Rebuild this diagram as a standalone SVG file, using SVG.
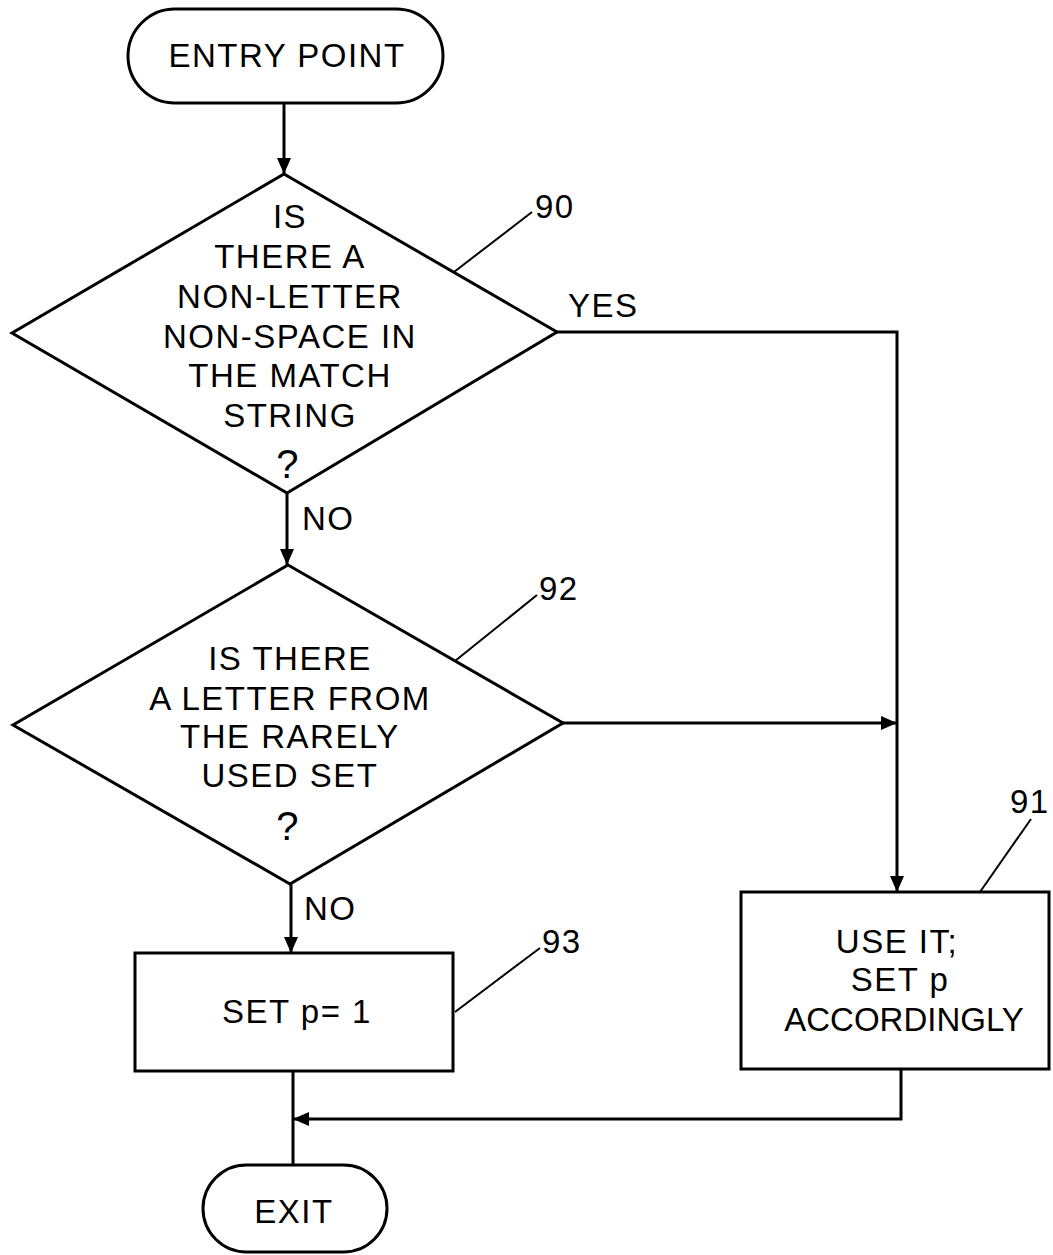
<svg xmlns="http://www.w3.org/2000/svg" width="1053" height="1255" viewBox="0 0 1053 1255">
<style>
.s{fill:none;stroke:#000;stroke-width:3;stroke-linejoin:miter}
.c{fill:none;stroke:#000;stroke-width:3}
.l{fill:none;stroke:#000;stroke-width:2}
text{font-family:"Liberation Sans",Arial,sans-serif;font-size:33px;fill:#000;letter-spacing:1.5px}
.m{text-anchor:middle}
.q{font-size:40px}
</style>
<defs>
<marker id="ah" markerUnits="userSpaceOnUse" markerWidth="17" markerHeight="15" refX="16" refY="7" orient="auto">
<path d="M0,0 L16,7 L0,14 z" fill="#000"/>
</marker>
</defs>
<rect width="1053" height="1255" fill="#fff"/>
<g id="connectors">
<path class="c" d="M284,103 V174" marker-end="url(#ah)"/>
<path class="c" d="M287,493 V565" marker-end="url(#ah)"/>
<path class="c" d="M557,332 H897 V892" marker-end="url(#ah)"/>
<path class="c" d="M563,723 H897" marker-end="url(#ah)"/>
<path class="c" d="M291,884 V953" marker-end="url(#ah)"/>
<path class="c" d="M293,1071 V1165"/>
<path class="c" d="M901,1069 V1119 H293" marker-end="url(#ah)"/>
<text x="568" y="317">YES</text>
<text x="302" y="530">NO</text>
<text x="304" y="920">NO</text>
</g>
<g id="entry">
<rect class="s" x="128" y="9" width="315" height="94" rx="47" ry="47"/>
<text class="m" x="287" y="67">ENTRY POINT</text>
</g>
<g id="n90">
<path class="s" d="M284,174 L557,332 L287,493 L12,333 Z"/>
<text class="m" x="290" y="228">IS</text>
<text class="m" x="290" y="268">THERE A</text>
<text class="m" x="290" y="308">NON-LETTER</text>
<text class="m" x="290" y="348">NON-SPACE IN</text>
<text class="m" x="290" y="387">THE MATCH</text>
<text class="m" x="290" y="427">STRING</text>
<text class="m q" x="288" y="478">?</text>
<path class="l" d="M454,272 L532,212"/>
<text x="535" y="218">90</text>
</g>
<g id="n92">
<path class="s" d="M288,565 L563,723 L290,884 L13,725 Z"/>
<text class="m" x="290" y="670">IS THERE</text>
<text class="m" x="290" y="710">A LETTER FROM</text>
<text class="m" x="290" y="748">THE RARELY</text>
<text class="m" x="290" y="787">USED SET</text>
<text class="m q" x="288" y="840">?</text>
<path class="l" d="M455,661 L537,595"/>
<text x="539" y="600">92</text>
</g>
<g id="n93">
<rect class="s" x="135" y="953" width="318" height="118"/>
<text class="m" x="297" y="1023">SET p= 1</text>
<path class="l" d="M455,1012 L540,948"/>
<text x="542" y="953">93</text>
</g>
<g id="n91">
<rect class="s" x="741" y="892" width="308" height="177"/>
<text class="m" x="897" y="953">USE IT;</text>
<text class="m" x="900" y="991">SET p</text>
<text class="m" x="904" y="1031" style="letter-spacing:0">ACCORDINGLY</text>
<path class="l" d="M980,892 L1031,819"/>
<text x="1010" y="813">91</text>
</g>
<g id="exit">
<rect class="s" x="203" y="1165" width="184" height="87" rx="43.5" ry="43.5"/>
<text class="m" x="294" y="1223">EXIT</text>
</g>
</svg>
